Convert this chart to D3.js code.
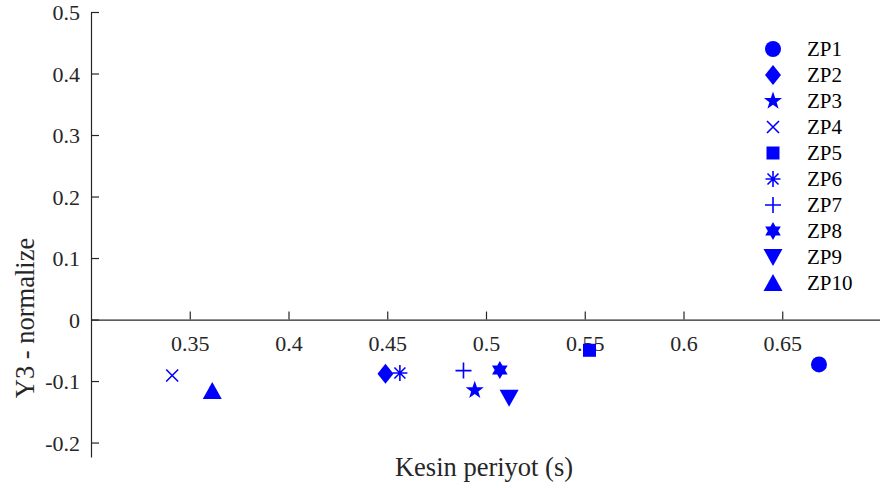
<!DOCTYPE html>
<html><head><meta charset="utf-8">
<script src="https://cdn.jsdelivr.net/npm/d3@7"></script>
<style>html,body{margin:0;padding:0;background:#fff;}</style>
</head>
<body><svg id="c" width="880" height="488"></svg>
<script>
const names = ["ZP1","ZP2","ZP3","ZP4","ZP5","ZP6","ZP7","ZP8","ZP9","ZP10"];
const xValues = [0.6686, 0.4491, 0.4943, 0.3411, 0.5524, 0.4564, 0.4886, 0.5070, 0.5117, 0.3614];
const yValues = [-0.073, -0.088, -0.115, -0.091, -0.050, -0.087, -0.083, -0.082, -0.127, -0.116];
const markers = ["circle","diamond","star","x","square","asterisk","plus","hexagram","down","up"];
const xTicks = [0.35, 0.4, 0.45, 0.5, 0.55, 0.6, 0.65];
const yTicks = [-0.2, -0.1, 0, 0.1, 0.2, 0.3, 0.4, 0.5];

const FONT = "Liberation Serif";
const svg = d3.select("#c");
const x = d3.scaleLinear().domain([0.3, 0.7]).range([91, 881]);
const y = d3.scaleLinear().domain([-0.2235, 0.5]).range([457, 12]);
const col = "#0000ff", axisCol = "#262626";

function starPath(R, r, n, rot) {
  const pts = [];
  for (let i = 0; i < 2 * n; i++) {
    const a = rot + i * Math.PI / n;
    const rr = i % 2 === 0 ? R : r;
    pts.push([rr * Math.cos(a), rr * Math.sin(a)]);
  }
  return "M" + pts.map(p => p[0].toFixed(2) + "," + p[1].toFixed(2)).join("L") + "Z";
}
function hexagramPath(R) {
  const f = off => "M" + [0,1,2].map(i => { const a = off + i*2*Math.PI/3; return (R*Math.cos(a)).toFixed(2)+","+(R*Math.sin(a)).toFixed(2); }).join("L") + "Z";
  return f(-Math.PI/2) + f(Math.PI/2);
}
function drawMarker(g, type) {
  switch (type) {
    case "circle": g.append("circle").attr("r", 8).attr("fill", col); break;
    case "diamond": g.append("path").attr("d", "M0,-10L8,0L0,10L-8,0Z").attr("fill", col); break;
    case "star": g.append("path").attr("d", starPath(9.5, 3.8, 5, -Math.PI/2)).attr("fill", col); break;
    case "x": g.append("path").attr("d", "M-6,-6L6,6M-6,6L6,-6").attr("stroke", col).attr("stroke-width", 1.6).attr("fill", "none"); break;
    case "square": g.append("rect").attr("x", -6.5).attr("y", -6.5).attr("width", 13).attr("height", 13).attr("fill", col); break;
    case "asterisk": g.append("path").attr("d", "M0,-8L0,8M-7.5,0L7.5,0M-5.5,-5.5L5.5,5.5M-5.5,5.5L5.5,-5.5").attr("stroke", col).attr("stroke-width", 1.6).attr("fill", "none"); break;
    case "plus": g.append("path").attr("d", "M0,-8L0,8M-8,0L8,0").attr("stroke", col).attr("stroke-width", 1.6).attr("fill", "none"); break;
    case "hexagram": g.append("path").attr("d", hexagramPath(9)).attr("fill", col); break;
    case "down": g.append("path").attr("d", "M-9.5,-8L9.5,-8L0,9Z").attr("fill", col); break;
    case "up": g.append("path").attr("d", "M-9.5,8L9.5,8L0,-9Z").attr("fill", col); break;
  }
}

// Y axis
const yAx = svg.append("g").attr("transform", "translate(91,0)")
  .call(d3.axisRight(y).tickValues(yTicks).tickSize(8).tickSizeOuter(0).tickFormat(d => String(+d.toFixed(1))));
yAx.attr("font-family", FONT).attr("font-size", 22);
yAx.select(".domain").attr("stroke", axisCol).attr("stroke-width", 1.2);
yAx.selectAll(".tick line").attr("stroke", axisCol).attr("stroke-width", 1.2);
yAx.selectAll(".tick text").attr("x", -11).attr("dy", "0.36em").attr("text-anchor", "end").attr("fill", axisCol);

// X axis at y=0
const xAx = svg.append("g").attr("transform", `translate(0,${y(0)})`)
  .call(d3.axisTop(x).tickValues(xTicks).tickSize(8).tickSizeOuter(0).tickFormat(d => String(+d.toFixed(2))));
xAx.attr("font-family", FONT).attr("font-size", 22);
xAx.select(".domain").attr("stroke", axisCol).attr("stroke-width", 1.2);
xAx.selectAll(".tick line").attr("stroke", axisCol).attr("stroke-width", 1.2);
xAx.selectAll(".tick text").attr("y", 31).attr("dy", 0).attr("text-anchor", "middle").attr("fill", axisCol);

// Axis titles
svg.append("text").attr("x", 484).attr("y", 476).attr("text-anchor", "middle")
  .attr("font-family", FONT).attr("font-size", 26.5).attr("fill", axisCol).text("Kesin periyot (s)");
svg.append("text").attr("transform", "translate(34,318) rotate(-90)").attr("text-anchor", "middle")
  .attr("font-family", FONT).attr("font-size", 26.5).attr("fill", axisCol).text("Y3 - normalize");

// Points
names.forEach((n, i) => {
  const g = svg.append("g").attr("transform", `translate(${x(xValues[i])},${y(yValues[i])})`);
  drawMarker(g, markers[i]);
});

// Legend
const leg = svg.append("g");
names.forEach((n, i) => {
  const yy = 49 + i * 26;
  const g = leg.append("g").attr("transform", `translate(773,${yy})`);
  drawMarker(g, markers[i]);
  leg.append("text").attr("x", 807).attr("y", yy + 7).attr("font-family", FONT).attr("font-size", 21)
    .attr("fill", "#000").text(n);
});
</script></body></html>
